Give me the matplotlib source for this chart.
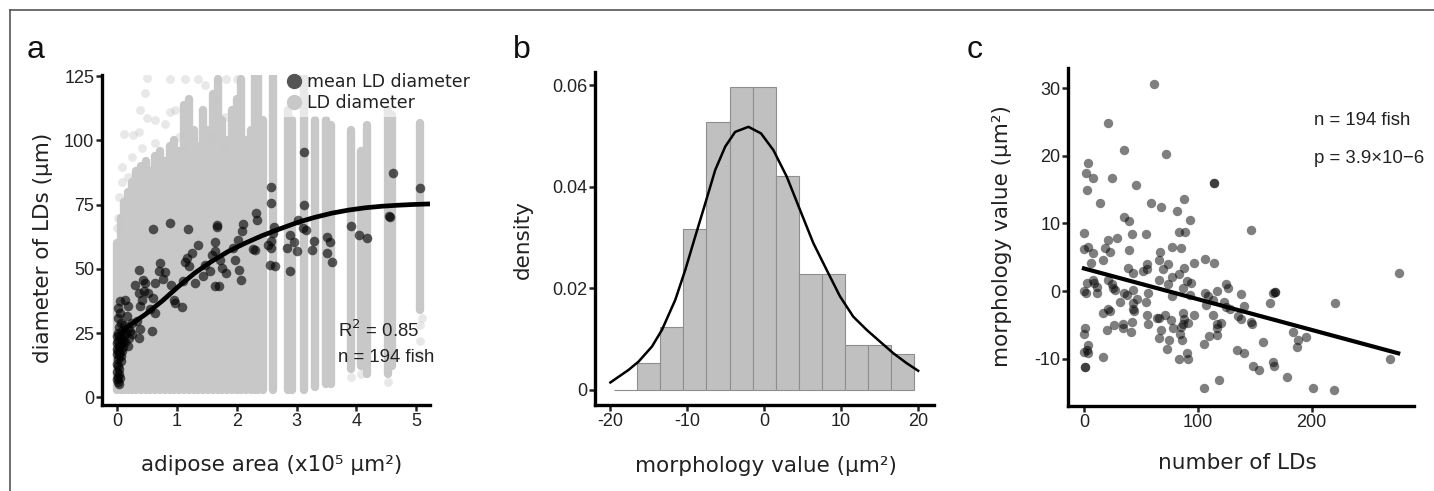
import matplotlib
matplotlib.use("Agg")
import matplotlib.pyplot as plt
from matplotlib.lines import Line2D
import numpy as np

plt.rcParams['font.family'] = ['Liberation Sans', 'DejaVu Sans']
plt.rcParams['axes.unicode_minus'] = False

# ---------------- Panel a data ----------------
# columns of individual LD diameters per fish (x = adipose area, lo/hi = range of diameters)
ld_col_x = [0.00, 0.06, 0.12, 0.18, 0.25, 0.32, 0.40, 0.48, 0.56, 0.64, 0.72, 0.80, 0.88,
            0.96, 1.04, 1.12, 1.20, 1.28, 1.36, 1.44, 1.52, 1.60, 1.68, 1.76, 1.84, 1.92,
            2.00, 2.08, 2.16, 2.24, 2.30, 2.36, 2.44, 2.60, 2.86, 2.93, 3.12, 3.31, 3.50,
            3.58, 3.91, 4.07, 4.17, 4.53, 4.60, 5.07]
ld_col_lo = [3, 3, 3, 3, 3, 3, 3, 3, 3, 3, 3, 3, 3,
             3, 3, 3, 3, 3, 3, 3, 3, 3, 3, 3, 3, 3,
             3, 3, 3, 3, 3, 3, 3, 3, 3, 3, 3, 4, 5,
             5, 11, 12, 9, 9, 12, 34]
ld_col_hi = [60, 70, 76, 80, 84, 88, 90, 92, 88, 94, 96, 92, 98,
             100, 96, 114, 116, 104, 98, 112, 104, 118, 124, 108, 100, 112,
             116, 124, 100, 104, 125, 125, 108, 125, 112, 108, 125, 108, 108,
             106, 104, 96, 106, 112, 110, 107]
# sparse individual LD diameters
ld_faint_x = [0.47, 0.38, 0.64, 0.11, 0.27, 0.36, 0.50, 0.89, 0.97, 0.80, 0.08, 0.19, 0.25,
              0.41, 0.64, 0.89, 1.14, 1.36, 1.47, 1.83, 2.00, 1.64, 1.81, 1.81, 1.61, 1.03,
              1.08, 0.50, 0.02, 0.04, 0.00, 0.08, 5.07, 5.07, 5.05, 5.09, 4.53, 3.91, 4.07]
ld_faint_y = [118.3, 111.8, 107.9, 102.7, 102.1, 103.4, 108.6, 111.1, 111.8, 106.6, 89.8, 85.9, 93.7,
              96.9, 99.1, 124, 124, 124, 121.5, 124, 124, 115.7, 109.2, 96.9, 101.4, 101.4,
              96.3, 124.5, 70, 78, 66, 84, 28, 22, 17, 31, 6, 8, 9]

# mean LD diameter per fish
mean_x = [2.58, 2.58, 2.63, 2.60, 2.58, 2.58, 2.64, 3.13, 3.13, 3.03, 3.10, 3.15, 2.89, 2.95,
          2.84, 3.00, 2.89, 3.30, 3.26, 3.51, 3.56, 3.51, 3.60, 3.91, 4.05, 4.18, 4.54, 4.57,
          4.62, 5.07,
          0.61, 0.89, 1.19, 1.67, 1.67, 2.11, 2.32, 2.34, 2.09, 2.03, 2.28, 2.30,
          1.35, 1.63, 1.63, 1.25, 1.17, 1.13, 1.20, 0.72, 0.70, 0.81, 0.36, 0.44, 0.47, 0.64,
          0.30, 0.77, 0.90, 1.11, 1.30, 1.44, 1.58, 1.72, 1.75, 1.83, 1.64, 1.70, 1.47, 1.56,
          1.94, 1.97, 2.04, 2.07, 2.53, 2.56,
          0.46, 0.36, 0.52, 0.41, 0.61, 0.13, 0.05, 0.02, 0.19, 0.38, 0.96, 0.97, 1.09, 0.55,
          0.64, 0.05, 0.16, 0.25, 0.33, 0.38, 0.58, 0.19, 0.11, 0.36, 0.00,
          0.01, 0.03, 0.06, 0.02, 0.08, 0.00, 0.04, 0.10, 0.12, 0.15, 0.00, 0.02, 0.05, 0.00,
          0.03, 0.01, 0.06, 0.00, 0.02, 0.04, 0.00, 0.03, 0.01, 0.05, 0.00, 0.02, 0.03, 0.08,
          0.10, 0.07, 0.05, 0.13, 0.18, 0.20, 0.22, 0.25, 0.09, 0.04, 0.06, 0.02]
mean_y = [82.0, 75.6, 66.5, 63.9, 60.7, 58.1, 51.0, 95.6, 74.9, 69.1, 65.9, 65.2, 63.3, 60.3,
          58.1, 56.8, 49.0, 60.7, 57.2, 62.6, 60.3, 56.2, 52.5, 66.8, 63.3, 62.0, 70.7, 70.3,
          87.2, 81.4,
          65.5, 67.8, 65.5, 67.2, 66.4, 67.4, 71.9, 69.1, 64.6, 61.3, 57.7, 57.2,
          59.4, 60.3, 56.8, 56.2, 54.2, 52.5, 51.0, 52.3, 49.0, 48.6, 49.4, 45.8, 44.5, 44.5,
          43.9, 46.1, 43.9, 45.3, 44.5, 47.2, 55.5, 53.6, 50.3, 48.4, 43.5, 43.2, 51.6, 49.0,
          58.1, 53.6, 49.4, 45.7, 59.4, 51.6,
          41.3, 40.6, 40.6, 38.0, 38.7, 38.0, 37.4, 34.8, 35.6, 35.6, 38.0, 36.8, 35.2, 34.2,
          32.9, 32.9, 31.7, 29.0, 29.6, 26.4, 25.7, 27.0, 28.3, 23.2, 23.8,
          25, 24, 23, 22, 21.5, 21, 20, 22, 24, 25, 19, 18, 17.5, 17,
          16, 15, 14, 13, 12, 11, 10, 9, 8, 7.5, 7, 6, 5, 18,
          19.5, 16, 20.5, 21.5, 20, 23, 26, 24.5, 26, 27.5, 29, 31]

# fitted saturating curve
fit_x = [0.08, 0.19, 0.47, 0.75, 1.03, 1.30, 1.58, 1.86, 2.14, 2.42, 2.70, 3.03, 3.31, 3.59,
         3.87, 4.15, 4.43, 4.70, 4.97, 5.23]
fit_y = [25.1, 27.7, 32.2, 37.4, 43.2, 48.4, 52.9, 56.8, 60.0, 62.9, 65.4, 68.2, 70.1, 71.7,
         72.9, 73.8, 74.4, 74.8, 75.1, 75.3]

# ---------------- Panel b data ----------------
hist_edges = [-19.5, -16.5, -13.5, -10.5, -7.5, -4.5, -1.5, 1.5, 4.5, 7.5, 10.5, 13.5, 16.5, 19.5]
hist_density = [0.0, 0.0053, 0.0124, 0.0316, 0.0527, 0.0597, 0.0597, 0.0421, 0.0228, 0.0228,
                0.0088, 0.0088, 0.0071]
dens_x = [-20.0, -17.62, -16.32, -14.59, -13.29, -11.56, -10.26, -8.96, -7.66, -6.36, -5.06,
          -3.77, -2.04, -0.40, 1.21, 2.94, 4.68, 6.40, 8.14, 9.87, 11.60, 13.34, 15.06, 16.80,
          18.53, 20.04]
dens_y = [0.00144, 0.00393, 0.00557, 0.00852, 0.0118, 0.0177, 0.0236, 0.0302, 0.0367, 0.0433,
          0.0479, 0.0508, 0.0518, 0.0505, 0.0472, 0.0420, 0.0354, 0.0289, 0.0236, 0.0184,
          0.0144, 0.0118, 0.00951, 0.00721, 0.00525, 0.00374]

# ---------------- Panel c data ----------------
nld = [61.5, 21.4, 35.1, 71.7, 3.2, 1.5, 8.2, 24.3, 114.2, 114.2, 2.3, 45.7, 14.1, 58.6, 67.3, 87.8,
       81.4, 35.1, 39.5, 93.1, 0.0, 41.9, 54.5, 83.5, 88.7, 146.7, 0.0, 3.8, 7.6, 18.4, 21.4,
       28.7, 22.8, 39.2, 66.8, 77.6, 85.2, 16.4, 5.9, 65.9, 74.1, 106.3, 114.2, 96.9, 38.9,
       42.7, 55.6, 55.1, 51.5, 69.7, 87.8, 2.3, 7.6, 8.8, 21.4, 24.3, 11.1, 25.8, 65.9, 73.5,
       77.6, 83.5, 90.3, 93.8, 0.0, 1.8, 11.1, 27.2, 35.1, 43.3, 56.5, 86.7, 124.7, 126.8,
       116.5, 167.8, 166.3, 276.7, 37.5, 46.3, 31.6, 54.5, 77.6, 93.1, 106.3, 109.2, 107.2,
       113.6, 122.9, 137.9, 163.4, 220.5, 43.3, 42.7, 43.9, 21.4, 16.4, 22.8, 87.3, 96.6,
       87.8, 86.7, 91.7, 63.8, 65.9, 71.1, 76.4, 55.1, 56.0, 34.6, 34.0, 26.4, 19.9, 41.9,
       41.0, 67.3, 77.9, 84.9, 84.3, 66.2, 74.7, 72.6, 85.8, 83.5, 91.1, 90.3, 105.4, 110.1,
       116.5, 113.6, 116.5, 120.4, 117.1, 124.7, 128.3, 135.6, 137.9, 140.8, 146.4, 147.3,
       157.0, 134.7, 140.8, 148.8, 154.0, 165.7, 166.8, 178.0, 183.9, 188.3, 187.4, 194.7,
       201.5, 219.6, 268.8, 105.7, 118.9, 0.0, 1.2, 3.2, 2.3, 3.5, 0.9, 0.9, 16.4, 0.0, 167.8]
morph = [30.7, 24.8, 20.9, 20.3, 18.9, 17.4, 16.7, 16.7, 16.0, 16.0, 15.0, 15.7, 13.0, 13.1, 12.5,
         13.6, 11.9, 11.0, 10.3, 10.5, 8.6, 8.5, 8.4, 8.7, 8.8, 9.0, 6.2, 6.5, 5.7, 6.3, 7.5,
         7.8, 5.8, 6.1, 5.8, 6.5, 6.3, 4.6, 4.1, 4.6, 4.0, 4.7, 4.2, 4.1, 3.4, 2.7, 4.0, 3.2,
         3.0, 3.2, 3.4, 1.2, 1.7, 1.2, 1.6, 1.0, 0.6, 0.5, 1.6, 1.1, 2.1, 2.6, 1.5, 1.2, 0.0,
         -0.3, -0.3, 0.2, -0.3, 0.1, -0.3, 0.5, 1.0, 0.4, 0.0, -0.1, -0.3, 2.7, -0.6, -1.2,
         -1.6, -1.6, -0.8, -0.6, -0.3, -0.8, -2.1, -1.3, -1.6, -0.4, -1.8, -1.7, -1.8, -2.6,
         -2.9, -2.7, -3.3, -2.9, -3.2, -3.6, -4.2, -4.9, -4.7, -4.0, -4.0, -3.6, -4.3, -3.6,
         -4.8, -4.9, -5.4, -5.0, -5.8, -4.5, -6.0, -5.7, -5.4, -5.3, -6.3, -7.0, -7.3, -8.6,
         -7.3, -10.0, -10.1, -9.2, -7.8, -6.7, -6.5, -3.6, -4.8, -4.7, -5.5, -2.4, -2.7, -3.7,
         -4.2, -2.2, -4.5, -4.8, -7.5, -8.7, -9.1, -11.1, -11.7, -10.5, -11.1, -12.7, -6.1,
         -7.3, -8.3, -6.8, -14.4, -14.7, -10.0, -14.3, -13.2, -6.4, -5.4, -8.0, -8.7, -9.2,
         -11.2, -11.2, -9.7, -9.0, -0.1]
reg_x = [0.0, 276.1]
reg_y = [3.35, -9.2]

# ---------------- Figure ----------------
W, H = 1434, 491
fig = plt.figure(figsize=(W / 100, H / 100), dpi=100)

def fbox(l, r, t, b):
    return [l / W, 1 - b / H, (r - l) / W, (b - t) / H]

def fx(px):
    return px / W

def fy(py):
    return 1 - py / H

ax_a = fig.add_axes(fbox(102, 430, 75, 405))
ax_b = fig.add_axes(fbox(595, 934, 72, 405))
ax_c = fig.add_axes(fbox(1068, 1414, 68, 406))

TEXT = '#222222'
label_kw = dict(family=['DejaVu Sans'], fontsize=15.5, color=TEXT)

def style(ax):
    for s in ['top', 'right']:
        ax.spines[s].set_visible(False)
    for s in ['left', 'bottom']:
        ax.spines[s].set_linewidth(2.4)
    ax.tick_params(axis='both', length=4, width=1.8, pad=1.5, colors=TEXT,
                   labelsize=13, labelfontfamily='Liberation Sans')

# Panel a
ax_a.vlines(ld_col_x, ld_col_lo, ld_col_hi, colors='#c8c8c8', linewidth=6.0,
            capstyle='round', zorder=1)
ax_a.scatter(ld_faint_x, ld_faint_y, s=40, color='#c6c6c6', alpha=0.4, linewidths=0, zorder=1)
ax_a.scatter(mean_x, mean_y, s=48, color='black', alpha=0.62, linewidths=0, zorder=2)
ax_a.plot(fit_x, fit_y, color='black', linewidth=3.4, solid_capstyle='butt', zorder=3)
ax_a.set_xlim(-0.25, 5.23)
ax_a.set_ylim(-3, 125.5)
ax_a.set_xticks([0, 1, 2, 3, 4, 5])
ax_a.set_yticks([0, 25, 50, 75, 100, 125])
style(ax_a)
handles = [Line2D([], [], marker='o', linestyle='', markersize=10, color='#555555',
                  label='mean LD diameter'),
           Line2D([], [], marker='o', linestyle='', markersize=10, color='#c8c8c8',
                  label='LD diameter')]
leg = ax_a.legend(handles=handles, loc='upper left', bbox_to_anchor=(0.545, 1.02),
                  frameon=True, prop={'family': 'DejaVu Sans', 'size': 12.5},
                  handletextpad=0.25, labelspacing=0.2, borderpad=0.25,
                  borderaxespad=0.0, handlelength=1.0)
leg.get_frame().set_facecolor('white')
leg.get_frame().set_alpha(0.6)
leg.get_frame().set_edgecolor('none')
for t in leg.get_texts():
    t.set_color(TEXT)
ax_a.text(3.7, 26, 'R$^2$ = 0.85', fontsize=13.4, va='center', ha='left', color=TEXT)
ax_a.text(3.7, 15.5, 'n = 194 fish', fontsize=13.4, va='center', ha='left', color=TEXT)
fig.text(fx(272), fy(465), 'adipose area (x10⁵ μm²)', ha='center', va='center', **label_kw)
fig.text(fx(43), fy(248), 'diameter of LDs (μm)', ha='center', va='center',
         rotation=90, **label_kw)

# Panel b
ax_b.bar(hist_edges[:-1], hist_density, width=np.diff(hist_edges), align='edge',
         color='#c0c0c0', edgecolor='#8e8e8e', linewidth=0.8, zorder=1)
ax_b.plot(dens_x, dens_y, color='black', linewidth=1.8, zorder=3)
ax_b.set_xlim(-22, 22.1)
ax_b.set_ylim(-0.003, 0.0626)
ax_b.set_xticks([-20, -10, 0, 10, 20])
ax_b.set_yticks([0, 0.02, 0.04, 0.06])
ax_b.set_yticklabels(['0', '0.02', '0.04', '0.06'])
style(ax_b)
fig.text(fx(766), fy(466), 'morphology value (μm²)', ha='center', va='center', **label_kw)
fig.text(fx(523), fy(240), 'density', ha='center', va='center', rotation=90, **label_kw)

# Panel c
ax_c.scatter(nld, morph, s=46, color='black', alpha=0.5, linewidths=0, zorder=2)
ax_c.plot(reg_x, reg_y, color='black', linewidth=3.0, zorder=3)
ax_c.set_xlim(-14, 290)
ax_c.set_ylim(-17, 33)
ax_c.set_xticks([0, 100, 200])
ax_c.set_yticks([-10, 0, 10, 20, 30])
style(ax_c)
fig.text(fx(1237), fy(463), 'number of LDs', ha='center', va='center', **label_kw)
fig.text(fx(1002), fy(236), 'morphology value (μm²)', ha='center', va='center',
         rotation=90, **label_kw)
ax_c.text(202, 25.3, 'n = 194 fish', fontsize=13.4, va='center', ha='left', color=TEXT)
ax_c.text(202, 19.6, 'p = 3.9×10−6', fontsize=13.4, va='center', ha='left', color=TEXT)

# panel letters
for lbl, px in [('a', 27), ('b', 513), ('c', 967)]:
    fig.text(fx(px), fy(58), lbl, fontsize=23, ha='left', va='baseline', color='#111111')

# frame lines (top and left)
fig.add_artist(Line2D([fx(10), 1.0], [fy(10), fy(10)], color='#555555', linewidth=1.2))
fig.add_artist(Line2D([fx(10), fx(10)], [0.0, fy(10)], color='#555555', linewidth=1.2))

fig.savefig('out.png', dpi=100)
